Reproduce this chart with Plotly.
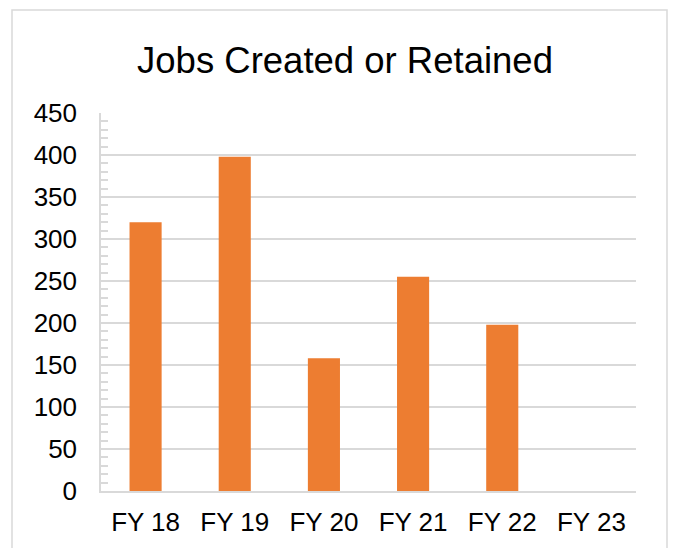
import plotly.graph_objects as go

categories = ["FY 18", "FY 19", "FY 20", "FY 21", "FY 22", "FY 23"]
jobs = [320, 398, 158, 255, 198, 0]
y_ticks = [0, 50, 100, 150, 200, 250, 300, 350, 400, 450]

# page has an 8px body margin, so the figure is laid out shifted by 8px
OFF = 8
W, H = 676 - OFF, 548 - OFF
L, R, T, B = 101 - OFF, 40, 113 - OFF, 57
pw = W - L - R
ph = H - T - B

def px_x(x):
    return (x - OFF - L) / pw

def px_y(y):
    return (H - B - (y - OFF)) / ph

fig = go.Figure(go.Bar(
    x=categories, y=jobs,
    marker=dict(color="#ED7D31", line=dict(width=0)),
    hoverinfo="x+y",
))

fig.update_layout(
    width=W, height=H,
    margin=dict(l=L, r=R, t=T, b=B),
    paper_bgcolor="white", plot_bgcolor="white",
    bargap=0.64,
    showlegend=False,
    font=dict(family="Liberation Sans, Arial, sans-serif", color="#000000"),
    title=dict(text="Jobs Created or Retained", x=(345 - OFF) / W, xref="container",
               y=1 - (60 - OFF) / H, yref="container", xanchor="center", yanchor="middle",
               font=dict(size=36.5, color="#000000")),
    xaxis=dict(showgrid=False, showline=True, linecolor="#D9D9D9", linewidth=1.5,
               ticks="", tickfont=dict(size=26), ticklabelstandoff=7),
    yaxis=dict(range=[0, 450], tickvals=y_ticks, showgrid=True, gridcolor="#D9D9D9",
               gridwidth=1.5, zeroline=False, showline=True, linecolor="#D9D9D9",
               linewidth=1.5, ticks="inside", ticklen=7, tickcolor="#D9D9D9",
               tickwidth=1.5, tickfont=dict(size=26), ticklabelstandoff=17,
               minor=dict(dtick=10, ticks="inside", ticklen=7, tickcolor="#D9D9D9",
                          tickwidth=1.5, showgrid=False)),
    shapes=[dict(type="rect", xref="paper", yref="paper",
                 x0=px_x(12), x1=px_x(667), y0=px_y(570), y1=px_y(10),
                 line=dict(color="#D9D9D9", width=1.5), fillcolor="rgba(0,0,0,0)",
                 layer="below")],
)

fig.write_html("out.html")
